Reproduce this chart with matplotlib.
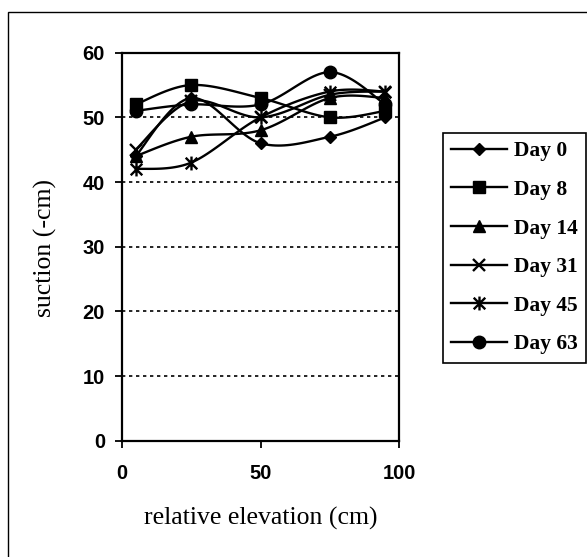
import numpy as np
import matplotlib
matplotlib.use("Agg")
import matplotlib.pyplot as plt
from matplotlib.lines import Line2D
from matplotlib.path import Path
from matplotlib.patches import Rectangle

# ---- data ----
elevation = [5, 25, 50, 75, 95]
day0 = [44, 53, 46, 47, 50]
day8 = [52, 55, 53, 50, 51]
day14 = [44, 47, 48, 53, 53]
day31 = [45, 52.5, 50, 53.5, 54]
day45 = [42, 43, 50, 54, 54]
day63 = [51, 52, 52, 57, 52]
series_labels = ["Day 0", "Day 8", "Day 14", "Day 31", "Day 45", "Day 63"]
x_ticks = [0, 50, 100]
y_ticks = [0, 10, 20, 30, 40, 50, 60]

# asterisk marker: X plus vertical bar
asterisk = Path(
    [(-0.5, -0.5), (0.5, 0.5), (-0.5, 0.5), (0.5, -0.5), (0, -0.6), (0, 0.6)],
    [Path.MOVETO, Path.LINETO, Path.MOVETO, Path.LINETO, Path.MOVETO, Path.LINETO],
)

styles = [
    dict(marker="D", ms=6.3, mew=1.0),
    dict(marker="s", ms=9, mew=1.0),
    dict(marker="^", ms=9, mew=1.0),
    dict(marker="x", ms=9, mew=1.7),
    dict(marker=asterisk, ms=10, mew=1.7),
    dict(marker="o", ms=9, mew=1.0),
]


def smooth(x, y, n=24):
    """Catmull-Rom style Bezier smoothing (as in spreadsheet 'smoothed line')."""
    P = np.column_stack([x, y]).astype(float)
    pts = []
    for i in range(len(P) - 1):
        p0 = P[i - 1] if i > 0 else P[i]
        p1 = P[i]
        p2 = P[i + 1]
        p3 = P[i + 2] if i + 2 < len(P) else P[i + 1]
        c1 = p1 + (p2 - p0) / 6.0
        c2 = p2 - (p3 - p1) / 6.0
        t = np.linspace(0, 1, n, endpoint=(i == len(P) - 2))[:, None]
        b = ((1 - t) ** 3) * p1 + 3 * ((1 - t) ** 2) * t * c1 + 3 * (1 - t) * t ** 2 * c2 + t ** 3 * p2
        pts.append(b)
    pts = np.vstack(pts)
    return pts[:, 0], pts[:, 1]


W, H = 587, 557
fig = plt.figure(figsize=(W / 100, H / 100), dpi=100)
fig.patch.set_facecolor("white")

ax = fig.add_axes([121.7 / W, 1 - 440.7 / H, (399.3 - 121.7) / W, (440.7 - 52.7) / H])

all_series = [day0, day8, day14, day31, day45, day63]
handles = []
for vals, st, lab in zip(all_series, styles, series_labels):
    sx, sy = smooth(elevation, vals)
    ax.plot(sx, sy, color="black", lw=1.7, zorder=3, solid_capstyle="round")
    ax.plot(elevation, vals, linestyle="none", color="black", marker=st["marker"],
            ms=st["ms"], mew=st["mew"], mfc="black", mec="black", zorder=4)
    handles.append(Line2D([], [], color="black", lw=1.7, marker=st["marker"],
                          ms=st["ms"], mew=st["mew"], mfc="black", mec="black", label=lab))

ax.set_xlim(0, 100)
ax.set_ylim(0, 60)
ax.set_xticks(x_ticks)
ax.set_yticks(y_ticks)
for g in y_ticks[1:-1]:
    ax.axhline(g, color="black", lw=1.2, linestyle=(0, (2, 2.2)), zorder=1)

for sp in ax.spines.values():
    sp.set_linewidth(1.6)
    sp.set_color("black")
ax.tick_params(axis="both", direction="out", length=5, width=1.3, color="black")
ax.tick_params(axis="x", pad=11.5)
ax.tick_params(axis="y", pad=7)
for lab in ax.get_xticklabels() + ax.get_yticklabels():
    lab.set_fontfamily("Liberation Sans")
    lab.set_fontweight("bold")
    lab.set_fontsize(14.5)

ax.set_xlabel("relative elevation (cm)", fontfamily="Liberation Serif", fontsize=18.5)
ax.set_ylabel("suction (-cm)", fontfamily="Liberation Serif", fontsize=18.5)
ax.xaxis.label.set_va("center")
ax.yaxis.label.set_va("center")
ax.xaxis.set_label_coords((261 - 121.7) / 277.6, (440.7 - 518) / 388)
ax.yaxis.set_label_coords((45 - 121.7) / 277.6, 0.497)

leg = fig.legend(handles=handles, loc="upper left",
                 bbox_to_anchor=(442.7 / W, 1 - 132.7 / H), borderaxespad=0,
                 prop=dict(family="Liberation Serif", weight="bold", size=15.5),
                 frameon=True, fancybox=False, shadow=False, framealpha=1,
                 edgecolor="black", handlelength=2.6, handletextpad=0.3,
                 borderpad=0.4, labelspacing=0.86)
leg.get_frame().set_linewidth(1.2)

# outer chart-area border (cut off at right and bottom)
fig.patches.append(Rectangle((7.5 / W, -0.1), 1.2, 1 - 12 / H + 0.1,
                             transform=fig.transFigure, fill=False,
                             edgecolor="black", lw=1.0, zorder=0))

fig.savefig("out.png", dpi=100, facecolor="white")
